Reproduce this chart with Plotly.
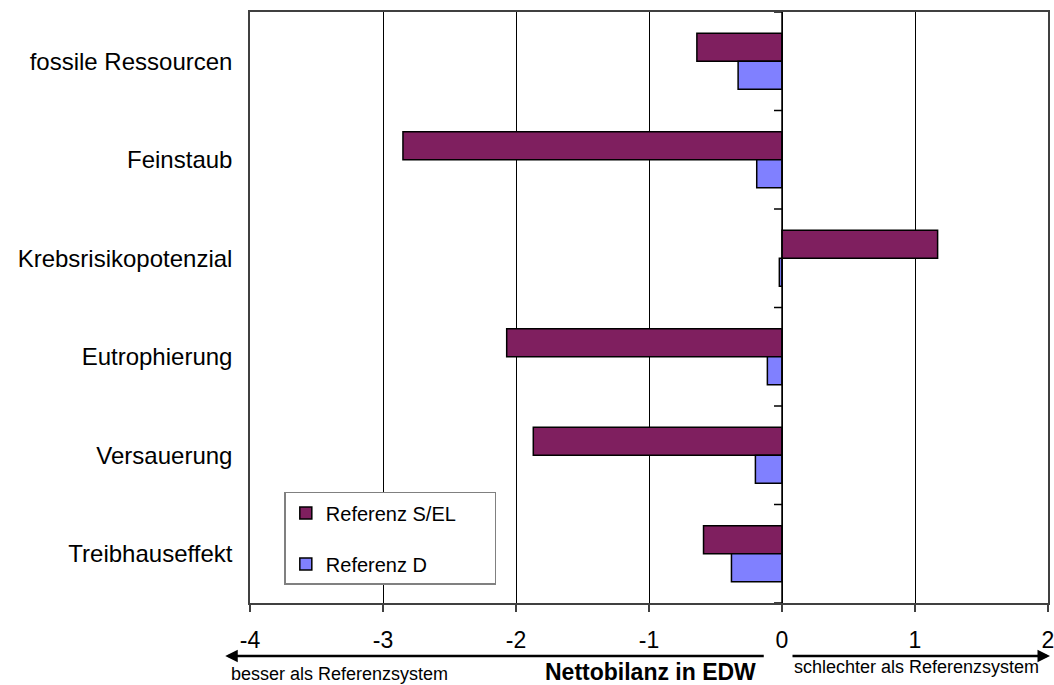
import plotly.graph_objects as go

# Impact categories, listed top to bottom
categories = ["fossile Ressourcen", "Feinstaub", "Krebsrisikopotenzial",
              "Eutrophierung", "Versauerung", "Treibhauseffekt"]
# Net balance in EDW for each reference scenario
ref_s_el = [-0.64, -2.85, 1.17, -2.07, -1.87, -0.59]
ref_d = [-0.33, -0.19, -0.02, -0.11, -0.20, -0.38]
x_ticks = [-4, -3, -2, -1, 0, 1, 2]

FONT = "Liberation Sans, Arial, sans-serif"
PURPLE = "#7f1f5f"
BLUE = "#8080ff"
PAD = "\u00a0" * 6  # widens the legend box

fig = go.Figure()
fig.add_trace(go.Bar(
    y=categories, x=ref_s_el, orientation="h", name="Referenz S/EL" + PAD,
    legendgroup="sel",
    marker=dict(color=PURPLE, line=dict(color="black", width=1.5)),
))
fig.add_trace(go.Bar(
    y=categories, x=ref_d, orientation="h", name="Referenz D" + PAD,
    legendgroup="d",
    marker=dict(color=BLUE, line=dict(color="black", width=1.5)),
))

# vertical axis drawn at x = 0 with ticks at category boundaries
shapes = [dict(type="line", xref="x", yref="paper", x0=0, x1=0, y0=0, y1=1,
               line=dict(color="black", width=1.5))]
for i in range(len(categories) + 1):
    shapes.append(dict(type="line", xref="x", yref="y", x0=-0.06, x1=0,
                       y0=i - 0.5, y1=i - 0.5, line=dict(color="black", width=1.5)))

annotations = [
    # direction arrows under the axis
    dict(xref="paper", yref="paper", axref="pixel", ayref="pixel",
         x=-0.031, y=-0.0897, ax=540, ay=0, text="", showarrow=True,
         arrowhead=2, arrowsize=1, arrowwidth=2.5, arrowcolor="black"),
    dict(xref="paper", yref="paper", axref="pixel", ayref="pixel",
         x=1.0025, y=-0.0897, ax=-259, ay=0, text="", showarrow=True,
         arrowhead=2, arrowsize=1, arrowwidth=2.5, arrowcolor="black"),
    dict(xref="paper", yref="paper", x=-0.0263, y=-0.120, xanchor="left", yanchor="middle",
         text="besser als Referenzsystem", showarrow=False,
         font=dict(family=FONT, size=18, color="black")),
    dict(xref="paper", yref="paper", x=0.679, y=-0.108, xanchor="left", yanchor="middle",
         text="schlechter als Referenzsystem", showarrow=False,
         font=dict(family=FONT, size=18, color="black")),
    dict(xref="paper", yref="paper", x=0.502, y=-0.117, xanchor="center", yanchor="middle",
         text="<b>Nettobilanz in EDW</b>", showarrow=False,
         font=dict(family=FONT, size=23, color="black")),
]

fig.update_layout(
    width=1054, height=685,
    margin=dict(l=250, r=6, t=12, b=82),
    paper_bgcolor="white", plot_bgcolor="white",
    barmode="group", bargap=0.43, bargroupgap=0,
    font=dict(family=FONT, color="black"),
    shapes=shapes, annotations=annotations,
    legend=dict(
        x=0.043, y=0.188, xanchor="left", yanchor="top",
        bgcolor="white", bordercolor="#808080", borderwidth=1.5,
        font=dict(family=FONT, size=20, color="black"),
        tracegroupgap=22, itemwidth=30,
    ),
    xaxis=dict(
        range=[-4, 2], tickvals=x_ticks, ticktext=[str(v) for v in x_ticks],
        showgrid=True, gridcolor="black", gridwidth=1, zeroline=False,
        showline=True, linecolor="#404040", linewidth=1.5, mirror=True,
        ticks="outside", ticklen=7, tickcolor="#404040", tickwidth=1.5,
        ticklabelstandoff=9, automargin=False, ticklabeloverflow="allow",
        tickfont=dict(family=FONT, size=23, color="black"),
    ),
    yaxis=dict(
        type="category", categoryorder="array", categoryarray=categories,
        range=[len(categories) - 0.5, -0.5],
        showgrid=False, zeroline=False,
        showline=True, linecolor="#404040", linewidth=1.5, mirror=True,
        ticks="", ticklabelstandoff=11, automargin=False,
        tickfont=dict(family=FONT, size=24, color="black"),
    ),
)

fig.write_html("out.html")
